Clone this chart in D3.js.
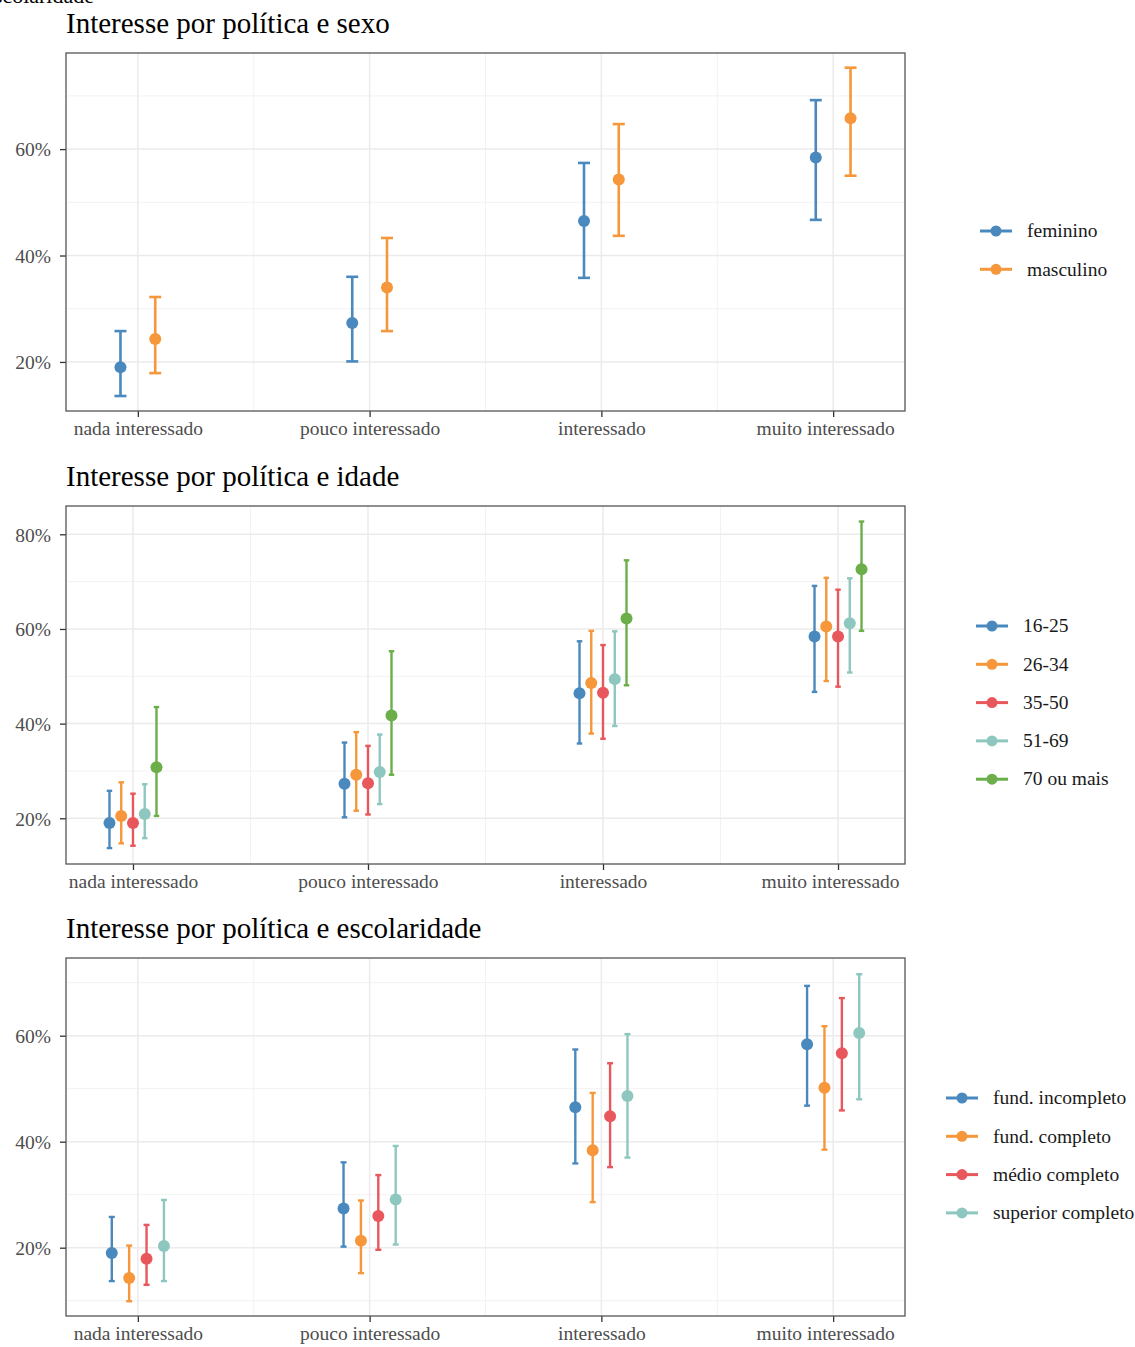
<!DOCTYPE html>
<html lang="en">
<meta charset="utf-8">
<title>Interesse por política</title>
<script src="https://d3js.org/d3.v7.min.js"></script>
<body>
<div id="chart"></div>
</body>

<style>
body {
  margin: 0;
  background-color: white;
}
.title {
  font-family: "Liberation Serif", "DejaVu Serif", serif;
  font-size: 29px;
  fill: black;
}
.tickText {
  font-family: "Liberation Serif", "DejaVu Serif", serif;
  font-size: 19.5px;
  fill: #4d4d4d;
}
.legendText {
  font-family: "Liberation Serif", "DejaVu Serif", serif;
  font-size: 19.5px;
  fill: #1a1a1a;
}
</style>

<script>
    // ---------------------------//
    //       DATA                 //
    // ---------------------------//

    let categories = ["nada interessado", "pouco interessado", "interessado", "muito interessado"];

    // panel 1: sexo
    let sexGroups = ["feminino", "masculino"];
    let sexEst  = [[19.0, 27.3, 46.5, 58.4], [24.3, 34.0, 54.3, 65.8]];
    let sexLow  = [[13.6, 20.1, 35.8, 46.7], [17.9, 25.8, 43.7, 55.0]];
    let sexHigh = [[25.8, 36.0, 57.4, 69.2], [32.2, 43.3, 64.7, 75.3]];
    let sexTicks = [20, 40, 60];

    // panel 2: idade
    let ageGroups = ["16-25", "26-34", "35-50", "51-69", "70 ou mais"];
    let ageEst  = [[19.0, 27.3, 46.4, 58.4], [20.5, 29.2, 48.6, 60.5], [19.0, 27.4, 46.5, 58.4],
                   [20.9, 29.8, 49.4, 61.2], [30.8, 41.7, 62.2, 72.6]];
    let ageLow  = [[13.7, 20.2, 35.8, 46.7], [14.7, 21.6, 37.9, 49.0], [14.2, 20.8, 36.8, 47.8],
                   [15.8, 23.0, 39.5, 50.8], [20.5, 29.2, 48.1, 59.6]];
    let ageHigh = [[25.8, 36.0, 57.4, 69.1], [27.6, 38.2, 59.6, 70.8], [25.2, 35.3, 56.6, 68.3],
                   [27.2, 37.7, 59.5, 70.7], [43.5, 55.3, 74.5, 82.7]];
    let ageTicks = [20, 40, 60, 80];

    // panel 3: escolaridade
    let eduGroups = ["fund. incompleto", "fund. completo", "médio completo", "superior completo"];
    let eduEst  = [[19.0, 27.4, 46.5, 58.4], [14.3, 21.3, 38.4, 50.2],
                   [17.9, 26.0, 44.8, 56.7], [20.3, 29.1, 48.6, 60.5]];
    let eduLow  = [[13.7, 20.2, 35.9, 46.8], [9.9, 15.2, 28.6, 38.5],
                   [13.0, 19.6, 35.2, 45.9], [13.7, 20.6, 37.0, 48.0]];
    let eduHigh = [[25.8, 36.1, 57.4, 69.4], [20.4, 28.9, 49.2, 61.8],
                   [24.3, 33.7, 54.8, 67.1], [29.0, 39.2, 60.3, 71.6]];
    let eduTicks = [20, 40, 60];

    let colours5 = ["#4a89be", "#f5973a", "#e8575c", "#8dc7bf", "#6bae4a"];

    // ---------------------------//
    //       SVG                  //
    // ---------------------------//

    let svg = d3.select("#chart")
      .append("svg")
        .attr("width", 1135)
        .attr("height", 1347);

    // leftover of the previous figure caption, clipped at the top
    svg.append("text")
      .attr("class", "title")
      .attr("text-anchor", "end")
      .attr("x", 94)
      .attr("y", 3)
      .style("font-size", "22px")
      .text("escolaridade");

    let drawPanel = function(p) {
      let g = svg.append("g");

      let x = d3.scalePoint()
        .domain(categories)
        .range([p.left, p.right])
        .padding(p.padding);

      let y = d3.scaleLinear()
        .domain(p.yDomain)
        .range([p.bottom, p.top]);

      let step = x.step();
      let n = p.groups.length;
      let dodge = function(i) { return (i - (n - 1) / 2) * p.dodge / n * step; };

      // title
      g.append("text")
        .attr("class", "title")
        .attr("x", p.left)
        .attr("y", p.top - 20)
        .text(p.title);

      // minor grid
      let minorY = d3.range(0, 100, 10).filter(v => v % 20 != 0 && v > p.yDomain[0] && v < p.yDomain[1]);
      g.append("g").selectAll("line")
        .data(minorY)
        .enter().append("line")
          .attr("x1", p.left).attr("x2", p.right)
          .attr("y1", d => y(d)).attr("y2", d => y(d))
          .style("stroke", "#f2f2f2").style("stroke-width", 1);
      let minorX = d3.range(categories.length - 1).map(i => x(categories[i]) + step / 2);
      g.append("g").selectAll("line")
        .data(minorX)
        .enter().append("line")
          .attr("x1", d => d).attr("x2", d => d)
          .attr("y1", p.top).attr("y2", p.bottom)
          .style("stroke", "#f2f2f2").style("stroke-width", 1);

      // major grid
      g.append("g").selectAll("line")
        .data(p.ticks)
        .enter().append("line")
          .attr("x1", p.left).attr("x2", p.right)
          .attr("y1", d => y(d)).attr("y2", d => y(d))
          .style("stroke", "#ebebeb").style("stroke-width", 1.5);
      g.append("g").selectAll("line")
        .data(categories)
        .enter().append("line")
          .attr("x1", d => x(d)).attr("x2", d => x(d))
          .attr("y1", p.top).attr("y2", p.bottom)
          .style("stroke", "#ebebeb").style("stroke-width", 1.5);

      // axes
      let yAxis = g.append("g")
        .attr("transform", "translate(" + p.left + ",0)")
        .call(d3.axisLeft(y).tickValues(p.ticks).tickFormat(d => d + "%").tickSize(6).tickPadding(9))
        .call(a => a.select(".domain").remove());
      yAxis.selectAll("line").style("stroke", "#333").style("stroke-width", 1.3);
      yAxis.selectAll("text").attr("class", "tickText").attr("dy", "0.35em");

      let xAxis = g.append("g")
        .attr("transform", "translate(0," + p.bottom + ")")
        .call(d3.axisBottom(x).tickSize(6).tickPadding(2))
        .call(a => a.select(".domain").remove());
      xAxis.selectAll("line").style("stroke", "#333").style("stroke-width", 1.3);
      xAxis.selectAll("text").attr("class", "tickText").attr("dy", "0.8em");
      // the last label sits a little left of its tick in the original
      xAxis.selectAll("text").filter(d => d == categories[categories.length - 1]).attr("dx", -8);

      // border
      g.append("rect")
        .attr("x", p.left).attr("y", p.top)
        .attr("width", p.right - p.left).attr("height", p.bottom - p.top)
        .style("fill", "none").style("stroke", "#555").style("stroke-width", 1.3);

      // error bars and points
      p.groups.forEach(function(grp, i) {
        let rows = categories.map((c, j) => ({cat: c, est: p.est[i][j], low: p.low[i][j], high: p.high[i][j]}));
        let col = colours5[i];
        let gg = g.append("g");
        gg.selectAll(".bar").data(rows).enter().append("line")
          .attr("x1", d => x(d.cat) + dodge(i)).attr("x2", d => x(d.cat) + dodge(i))
          .attr("y1", d => y(d.low)).attr("y2", d => y(d.high))
          .style("stroke", col).style("stroke-width", p.barWidth);
        ["low", "high"].forEach(function(k) {
          gg.selectAll(".cap" + k).data(rows).enter().append("line")
            .attr("x1", d => x(d.cat) + dodge(i) - p.cap / 2).attr("x2", d => x(d.cat) + dodge(i) + p.cap / 2)
            .attr("y1", d => y(d[k])).attr("y2", d => y(d[k]))
            .style("stroke", col).style("stroke-width", p.barWidth);
        });
        gg.selectAll("circle").data(rows).enter().append("circle")
          .attr("cx", d => x(d.cat) + dodge(i))
          .attr("cy", d => y(d.est))
          .attr("r", 6)
          .style("fill", col);
      });

      // legend
      let legend = g.append("g")
        .attr("transform", "translate(" + p.legendX + "," + p.legendY + ")");
      p.groups.forEach(function(grp, i) {
        let item = legend.append("g").attr("transform", "translate(0," + (i * 38.3) + ")");
        item.append("line")
          .attr("x1", 0).attr("x2", 32).attr("y1", 0).attr("y2", 0)
          .style("stroke", colours5[i]).style("stroke-width", 3);
        item.append("circle")
          .attr("cx", 16).attr("cy", 0).attr("r", 5.5)
          .style("fill", colours5[i]);
        item.append("text")
          .attr("class", "legendText")
          .attr("x", 47).attr("y", 0).attr("dy", "0.32em")
          .text(grp);
      });
    };

    drawPanel({title: "Interesse por política e sexo", groups: sexGroups,
               est: sexEst, low: sexLow, high: sexHigh, ticks: sexTicks,
               left: 66, right: 905, top: 53, bottom: 411, padding: 0.31,
               yDomain: [10.78, 78.06], dodge: 0.3, cap: 12, barWidth: 2.6,
               legendX: 980, legendY: 231});

    drawPanel({title: "Interesse por política e idade", groups: ageGroups,
               est: ageEst, low: ageLow, high: ageHigh, ticks: ageTicks,
               left: 66, right: 905, top: 506, bottom: 864, padding: 0.285,
               yDomain: [10.34, 85.98], dodge: 0.25, cap: 5.5, barWidth: 2.4,
               legendX: 976, legendY: 626});

    drawPanel({title: "Interesse por política e escolaridade", groups: eduGroups,
               est: eduEst, low: eduLow, high: eduHigh, ticks: eduTicks,
               left: 66, right: 905, top: 958, bottom: 1316, padding: 0.31,
               yDomain: [7.11, 74.66], dodge: 0.3, cap: 6, barWidth: 2.4,
               legendX: 946, legendY: 1098});
</script>
</html>
